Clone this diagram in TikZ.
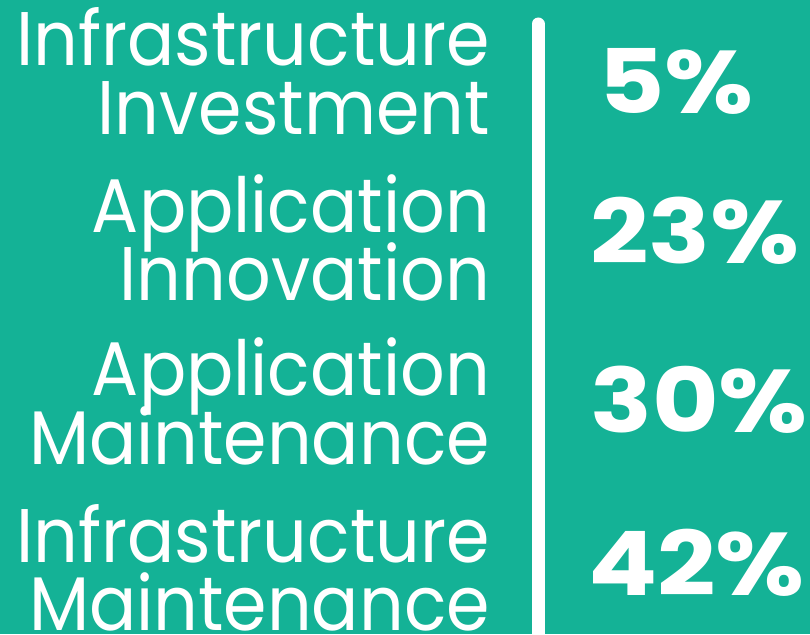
\documentclass[tikz,border=0pt]{standalone}
\usepackage{fontspec}
\setmainfont{Poppins}
\newfontfamily\lblfont[FakeStretch=0.92]{Poppins}
\newfontfamily\pctfont[FakeStretch=1.15]{Poppins}
\definecolor{bgteal}{RGB}{20,178,150}
\begin{document}
\begin{tikzpicture}[x=1pt,y=1pt,
  lbl/.style={anchor=base east,text=white,inner sep=0pt,font=\lblfont\fontsize{76}{76}\selectfont},
  pct/.style={anchor=base west,text=white,inner sep=0pt,font=\pctfont\fontsize{89}{89}\selectfont\bfseries}]
\fill[bgteal] (0,0) rectangle (810,-634);
\useasboundingbox (0,0) rectangle (810,-634);
\coordinate (ltop) at (538,-24);
\coordinate (lbot) at (538,-645);
\draw[white,line width=13,line cap=round] (ltop) -- (lbot);
\node[lbl] (l1a) at (490,-66) {Infrastructure};
\node[lbl] (l1b) at (490,-134) {Investment};
\node[lbl] (l2a) at (490,-232) {Application};
\node[lbl] (l2b) at (490,-300) {Innovation};
\node[lbl] (l3a) at (490,-395) {Application};
\node[lbl] (l3b) at (490,-464) {Maintenance};
\node[lbl] (l4a) at (490,-562) {Infrastructure};
\node[lbl] (l4b) at (490,-630) {Maintenance};
\node[pct] (p1) at (598,-113) {5\%};
\node[pct] (p2) at (590,-263) {23\%};
\node[pct] (p3) at (590,-432) {30\%};
\node[pct] (p4) at (588,-595) {42\%};
\end{tikzpicture}
\end{document}
